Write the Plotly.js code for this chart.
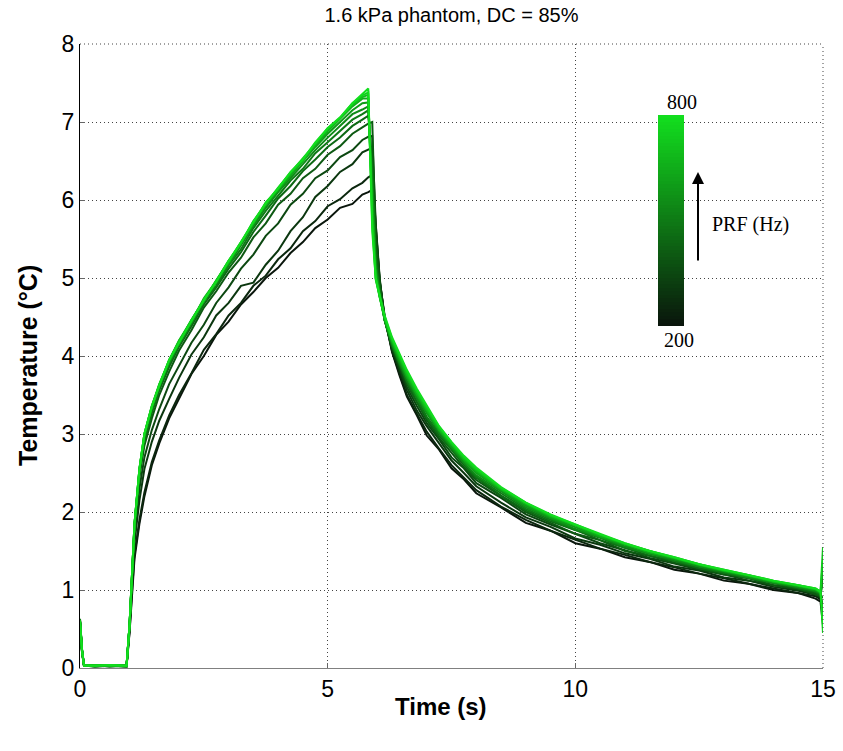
<!DOCTYPE html>
<html>
<head>
<meta charset="utf-8">
<script src="https://cdn.plot.ly/plotly-3.0.1.min.js"></script>
<style>
html,body{margin:0;padding:0;background:#fff;}
#chart{width:843px;height:751px;}
</style>
</head>
<body>
<div id="chart"></div>
<script>
// time axis (s)
const time = [0, 0.04, 0.08, 0.3, 0.6, 0.94,
  1.0, 1.05, 1.1, 1.2, 1.3, 1.45, 1.6, 1.8, 2.0, 2.25, 2.5, 2.75, 3.0, 3.25, 3.5, 3.75, 4.0, 4.25, 4.5, 4.75, 5.0, 5.25, 5.5, 5.7, 5.82, 5.9,
  5.97, 6.05, 6.15, 6.3, 6.45, 6.6, 6.8, 7.0, 7.25, 7.5, 7.75, 8.0, 8.5, 9.0, 9.5, 10, 10.5, 11, 11.5, 12, 12.5, 13, 13.5, 14, 14.5, 14.85, 14.95, 15.0];

// PRF values (Hz)
const prf = [200, 250, 300, 350, 400, 450, 500, 550, 600, 650, 700, 750, 800];

// temperature curves (°C), one per PRF
const temp200 = [0.58, 0.2, 0.03, 0.02, 0.03, 0.02,
  0.45, 0.95, 1.4, 1.85, 2.2, 2.6, 2.88, 3.2, 3.45, 3.77, 4.0, 4.27, 4.44, 4.66, 4.82, 5.0, 5.13, 5.32, 5.46, 5.64, 5.75, 5.9, 5.95, 6.07, 6.1, 6.13,
  5.6, 4.95, 4.5, 4.05, 3.75, 3.48, 3.24, 2.98, 2.8, 2.56, 2.42, 2.24, 2.06, 1.86, 1.76, 1.6, 1.53, 1.42, 1.36, 1.26, 1.21, 1.12, 1.08, 1.0, 0.96, 0.89, 0.85, 0.55];
const temp250 = [0.62, 0.24, 0.04, 0.03, 0.02, 0.03,
  0.47, 0.98, 1.45, 1.9, 2.25, 2.64, 2.92, 3.24, 3.5, 3.78, 4.08, 4.28, 4.52, 4.68, 4.9, 5.03, 5.24, 5.38, 5.6, 5.73, 5.92, 6.01, 6.15, 6.22, 6.29, 6.32,
  5.62, 4.96, 4.52, 4.06, 3.78, 3.5, 3.26, 3.03, 2.81, 2.6, 2.44, 2.28, 2.07, 1.9, 1.76, 1.64, 1.53, 1.45, 1.36, 1.29, 1.21, 1.15, 1.08, 1.02, 0.96, 0.92, 0.88, 0.7];
const temp300 = [0.6, 0.22, 0.03, 0.03, 0.03, 0.02,
  0.5, 1.05, 1.6, 2.15, 2.55, 2.9, 3.17, 3.45, 3.72, 4.02, 4.24, 4.52, 4.68, 4.9, 4.94, 5.17, 5.35, 5.6, 5.78, 6.04, 6.18, 6.36, 6.46, 6.61, 6.65, 6.67,
  5.65, 4.98, 4.48, 4.08, 3.82, 3.56, 3.3, 3.1, 2.88, 2.66, 2.5, 2.33, 2.12, 1.93, 1.81, 1.66, 1.58, 1.47, 1.4, 1.3, 1.25, 1.16, 1.12, 1.04, 0.99, 0.94, 0.9, 0.8];
const temp350 = [0.61, 0.23, 0.04, 0.02, 0.03, 0.03,
  0.52, 1.1, 1.7, 2.3, 2.7, 3.05, 3.32, 3.64, 3.88, 4.17, 4.4, 4.68, 4.88, 5.12, 5.3, 5.54, 5.7, 5.94, 6.08, 6.28, 6.38, 6.55, 6.64, 6.77, 6.81, 6.82,
  5.7, 5.0, 4.46, 4.1, 3.84, 3.6, 3.36, 3.14, 2.93, 2.7, 2.56, 2.37, 2.18, 1.97, 1.84, 1.72, 1.6, 1.51, 1.41, 1.34, 1.26, 1.2, 1.12, 1.06, 1.0, 0.96, 0.93, 0.75];
const temp400 = [0.6, 0.21, 0.03, 0.04, 0.03, 0.03,
  0.53, 1.15, 1.78, 2.45, 2.85, 3.2, 3.5, 3.8, 4.07, 4.33, 4.62, 4.83, 5.07, 5.26, 5.52, 5.7, 5.94, 6.08, 6.28, 6.4, 6.58, 6.69, 6.85, 6.93, 6.98, 7.0,
  5.5, 4.93, 4.46, 4.12, 3.88, 3.64, 3.41, 3.18, 2.95, 2.76, 2.57, 2.41, 2.2, 2.0, 1.86, 1.72, 1.64, 1.5, 1.44, 1.35, 1.28, 1.2, 1.15, 1.06, 1.02, 0.95, 0.92, 1.2];
const temp450 = [0.63, 0.25, 0.04, 0.03, 0.04, 0.02,
  0.54, 1.17, 1.8, 2.5, 2.9, 3.27, 3.56, 3.86, 4.12, 4.38, 4.66, 4.88, 5.12, 5.33, 5.59, 5.8, 6.02, 6.18, 6.37, 6.52, 6.68, 6.8, 6.95, 7.03, 7.08, 6.5,
  5.3, 4.86, 4.46, 4.14, 3.89, 3.67, 3.41, 3.21, 2.98, 2.8, 2.6, 2.44, 2.21, 2.02, 1.88, 1.77, 1.64, 1.54, 1.44, 1.37, 1.28, 1.22, 1.15, 1.09, 1.02, 0.97, 0.93, 0.9];
const temp500 = [0.59, 0.22, 0.03, 0.04, 0.02, 0.03,
  0.54, 1.18, 1.82, 2.52, 2.95, 3.3, 3.6, 3.9, 4.15, 4.42, 4.7, 4.9, 5.16, 5.37, 5.64, 5.86, 6.05, 6.25, 6.4, 6.6, 6.74, 6.88, 7.03, 7.1, 7.15, 6.3,
  5.2, 4.82, 4.47, 4.14, 3.92, 3.68, 3.46, 3.22, 3.01, 2.81, 2.63, 2.45, 2.24, 2.04, 1.9, 1.77, 1.67, 1.54, 1.47, 1.37, 1.3, 1.22, 1.16, 1.09, 1.04, 0.98, 0.95, 0.6];
const temp550 = [0.6, 0.23, 0.04, 0.03, 0.03, 0.04,
  0.55, 1.19, 1.83, 2.53, 2.97, 3.33, 3.6, 3.93, 4.15, 4.44, 4.7, 4.94, 5.17, 5.42, 5.67, 5.9, 6.1, 6.28, 6.46, 6.64, 6.8, 6.95, 7.1, 7.16, 7.2, 6.2,
  5.15, 4.8, 4.46, 4.16, 3.92, 3.72, 3.47, 3.27, 3.03, 2.83, 2.63, 2.47, 2.26, 2.06, 1.92, 1.78, 1.68, 1.56, 1.46, 1.39, 1.3, 1.24, 1.16, 1.1, 1.04, 0.99, 0.96, 1.3];
const temp600 = [0.61, 0.24, 0.03, 0.02, 0.04, 0.03,
  0.55, 1.2, 1.85, 2.55, 2.98, 3.34, 3.63, 3.92, 4.18, 4.46, 4.72, 4.95, 5.2, 5.44, 5.7, 5.93, 6.12, 6.32, 6.5, 6.68, 6.85, 7.0, 7.15, 7.24, 7.25, 6.0,
  5.1, 4.77, 4.46, 4.17, 3.95, 3.72, 3.5, 3.28, 3.05, 2.84, 2.66, 2.5, 2.28, 2.08, 1.93, 1.81, 1.68, 1.58, 1.48, 1.4, 1.32, 1.24, 1.18, 1.1, 1.05, 1.0, 0.96, 1.1];
const temp650 = [0.62, 0.23, 0.04, 0.03, 0.03, 0.02,
  0.55, 1.2, 1.85, 2.56, 3.0, 3.36, 3.62, 3.95, 4.2, 4.44, 4.74, 4.96, 5.22, 5.44, 5.72, 5.94, 6.14, 6.32, 6.52, 6.7, 6.88, 7.04, 7.2, 7.3, 7.3, 5.9,
  5.05, 4.76, 4.47, 4.19, 3.96, 3.75, 3.51, 3.31, 3.05, 2.87, 2.67, 2.52, 2.29, 2.1, 1.94, 1.83, 1.69, 1.59, 1.48, 1.41, 1.32, 1.25, 1.18, 1.11, 1.05, 1.01, 0.97, 1.4];
const temp700 = [0.6, 0.22, 0.03, 0.04, 0.03, 0.03,
  0.55, 1.2, 1.85, 2.55, 3.0, 3.36, 3.64, 3.94, 4.2, 4.46, 4.72, 4.97, 5.2, 5.46, 5.7, 5.97, 6.14, 6.35, 6.5, 6.73, 6.9, 7.05, 7.22, 7.32, 7.35, 5.8,
  5.0, 4.75, 4.49, 4.2, 3.99, 3.77, 3.54, 3.32, 3.07, 2.87, 2.69, 2.54, 2.3, 2.11, 1.95, 1.83, 1.71, 1.59, 1.5, 1.41, 1.33, 1.25, 1.19, 1.11, 1.06, 1.01, 0.97, 0.7];
const temp750 = [0.61, 0.24, 0.04, 0.03, 0.04, 0.03,
  0.55, 1.2, 1.85, 2.55, 3.0, 3.35, 3.63, 3.95, 4.17, 4.46, 4.71, 4.96, 5.22, 5.45, 5.73, 5.95, 6.16, 6.35, 6.53, 6.72, 6.92, 7.05, 7.24, 7.34, 7.38, 5.7,
  4.98, 4.76, 4.5, 4.22, 4.0, 3.8, 3.55, 3.35, 3.09, 2.89, 2.7, 2.55, 2.31, 2.12, 1.96, 1.84, 1.71, 1.6, 1.5, 1.42, 1.33, 1.26, 1.19, 1.12, 1.06, 1.02, 0.98, 1.55];
const temp800 = [0.6, 0.23, 0.03, 0.03, 0.04, 0.03,
  0.55, 1.2, 1.85, 2.55, 3.0, 3.35, 3.62, 3.95, 4.18, 4.45, 4.72, 4.95, 5.22, 5.46, 5.72, 5.96, 6.15, 6.36, 6.52, 6.74, 6.92, 7.06, 7.24, 7.36, 7.43, 5.6,
  5.0, 4.78, 4.52, 4.24, 4.02, 3.82, 3.58, 3.36, 3.1, 2.9, 2.72, 2.57, 2.32, 2.12, 1.97, 1.84, 1.72, 1.6, 1.5, 1.42, 1.33, 1.26, 1.19, 1.12, 1.06, 1.02, 0.98, 0.45];

const series = [temp200, temp250, temp300, temp350, temp400, temp450, temp500,
                temp550, temp600, temp650, temp700, temp750, temp800];

// colour bar labels
const cbMin = 200, cbMax = 800;

function prfColor(p) {
  const f = (p - cbMin) / (cbMax - cbMin);
  const r = Math.round(10 + 8 * f), g = Math.round(22 + 200 * f), b = Math.round(12 + 18 * f);
  return 'rgb(' + r + ',' + g + ',' + b + ')';
}

const traces = series.map((y, i) => ({
  type: 'scatter', mode: 'lines', x: time, y: y,
  line: {color: prfColor(prf[i]), width: 2},
  showlegend: false, hoverinfo: 'skip'
}));

// colour bar as a one-column heatmap
const cbLevels = [];
for (let v = cbMin; v <= cbMax; v += 10) cbLevels.push(v);
traces.push({
  type: 'heatmap', xaxis: 'x2', yaxis: 'y2',
  x: [0], y: cbLevels, z: cbLevels.map(v => [v]),
  colorscale: [[0, prfColor(200)], [0.5, prfColor(500)], [1, prfColor(800)]],
  zmin: cbMin, zmax: cbMax, showscale: false, hoverinfo: 'skip'
});

const px2x = p => (p - 80) / 743;
const px2y = p => (668 - p) / 624;
const gridCol = '#444';
const gridDash = '1px,3px';

const layout = {
  width: 843, height: 751,
  margin: {l: 80, r: 20, t: 44, b: 83},
  paper_bgcolor: '#fff', plot_bgcolor: '#fff',
  title: {text: '1.6 kPa phantom, DC = 85%', font: {family: 'Liberation Sans, Arial', size: 20, color: '#000'},
          x: 0.5, xref: 'paper', xanchor: 'center', y: 0.99, yanchor: 'top'},
  xaxis: {
    range: [0, 15], tickvals: [0, 5, 10, 15], showgrid: true,
    gridcolor: gridCol, griddash: gridDash, gridwidth: 1,
    zeroline: false, showline: true, linecolor: '#808080', linewidth: 1,
    ticks: 'inside', ticklen: 5, tickcolor: '#666',
    tickfont: {family: 'Liberation Sans, Arial', size: 23, color: '#000'}
  },
  yaxis: {
    range: [0, 8], tickvals: [0, 1, 2, 3, 4, 5, 6, 7, 8], showgrid: true,
    gridcolor: gridCol, griddash: gridDash, gridwidth: 1,
    zeroline: false, showline: true, linecolor: '#000', linewidth: 1,
    ticks: 'inside', ticklen: 5, tickcolor: '#666',
    tickfont: {family: 'Liberation Sans, Arial', size: 23, color: '#000'}
  },
  xaxis2: {domain: [px2x(658), px2x(684)], anchor: 'y2', visible: false, fixedrange: true},
  yaxis2: {domain: [px2y(326), px2y(115)], anchor: 'x2', visible: false, range: [cbMin - 5, cbMax + 5], fixedrange: true},
  shapes: [
    {type: 'line', xref: 'paper', yref: 'paper', x0: 0, x1: 1, y0: 1, y1: 1, line: {color: gridCol, width: 1, dash: gridDash}},
    {type: 'line', xref: 'paper', yref: 'paper', x0: 1, x1: 1, y0: 0, y1: 1, line: {color: gridCol, width: 1, dash: gridDash}}
  ],
  annotations: [
    {text: '<b>Time (s)</b>', xref: 'paper', yref: 'paper', x: px2x(441), y: px2y(706), xanchor: 'center', yanchor: 'middle',
     showarrow: false, font: {family: 'Liberation Sans, Arial', size: 24, color: '#000'}},
    {text: '<b>Temperature (\u00B0C)</b>', xref: 'paper', yref: 'paper', x: px2x(28), y: px2y(366), xanchor: 'center', yanchor: 'middle',
     textangle: -90, showarrow: false, font: {family: 'Liberation Sans, Arial', size: 25, color: '#000'}},
    {text: String(cbMax), xref: 'paper', yref: 'paper', x: px2x(682), y: px2y(102), xanchor: 'center', yanchor: 'middle', showarrow: false,
     font: {family: 'Liberation Serif, Times New Roman', size: 20, color: '#000'}},
    {text: String(cbMin), xref: 'paper', yref: 'paper', x: px2x(679), y: px2y(340), xanchor: 'center', yanchor: 'middle', showarrow: false,
     font: {family: 'Liberation Serif, Times New Roman', size: 20, color: '#000'}},
    {text: '', xref: 'paper', yref: 'paper', x: px2x(698), y: px2y(172), ax: 0, ay: 90,
     showarrow: true, arrowhead: 2, arrowsize: 1.2, arrowwidth: 2, arrowcolor: '#000'},
    {text: 'PRF (Hz)', xref: 'paper', yref: 'paper', x: px2x(710), y: px2y(225), xanchor: 'left', yanchor: 'middle', showarrow: false,
     font: {family: 'Liberation Serif, Times New Roman', size: 20, color: '#000'}}
  ]
};

Plotly.newPlot('chart', traces, layout, {displayModeBar: false, staticPlot: true});
</script>
</body>
</html>
